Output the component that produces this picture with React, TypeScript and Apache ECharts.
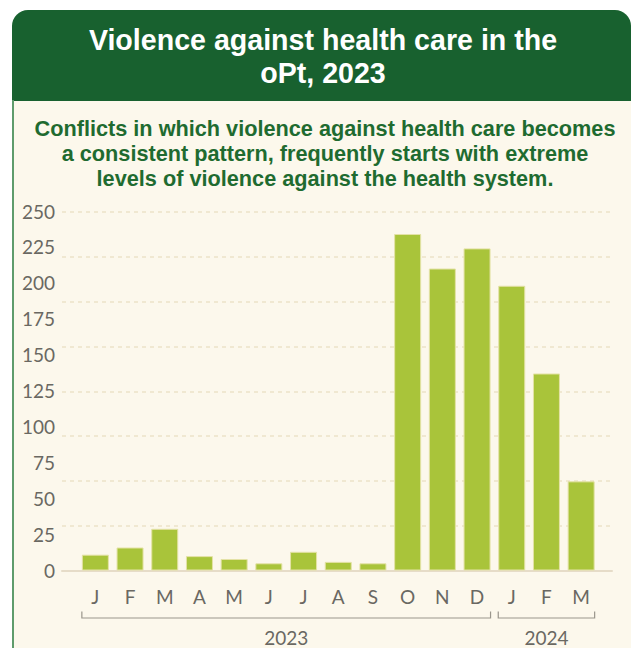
import React, { useEffect, useRef } from "react";
import * as echarts from "echarts";

const months = ["J", "F", "M", "A", "M", "J", "J", "A", "S", "O", "N", "D", "J", "F", "M"];
const incidents = [11, 16, 29, 10, 8, 5, 13, 6, 5, 234, 210, 224, 198, 137, 62];
const yearGroups = [
  { label: "2023", from: 0, to: 11 },
  { label: "2024", from: 12, to: 14 },
];
const titleLines = ["Violence against health care in the", "oPt, 2023"];
const subtitleLines = [
  "Conflicts in which violence against health care becomes",
  "a consistent pattern, frequently starts with extreme",
  "levels of violence against the health system.",
];

const FONT = "Lato";
const TITLE_FONT = "Liberation Sans";
const GRAY = "#6a6862";
const DARK_GREEN = "#18612f";
const TEXT_GREEN = "#1f6b30";
const CREAM = "#fcf8ec";
const BAR = "#a9c43a";
const BAR_W = 27;

export default function App() {
  const ref = useRef<HTMLDivElement>(null);
  useEffect(() => {
    if (!ref.current) return;
    const chart = echarts.init(ref.current, null, { renderer: "svg" });
    const option: any = {
      animation: false,
      backgroundColor: "#ffffff",
      grid: [
        { left: 78, width: 520.5, top: 211, bottom: 648 - 570.5, containLabel: false },
        { left: 62, right: 19, top: 212, bottom: 648 - 570.5, containLabel: false },
      ],
      xAxis: [
        {
          type: "category",
          gridIndex: 0,
          data: months,
          axisLine: { show: false },
          axisTick: { show: false },
          axisLabel: { color: GRAY, fontFamily: FONT, fontSize: 19, margin: 16 },
        },
        {
          type: "value",
          gridIndex: 1,
          min: 0,
          max: 1,
          axisLine: { show: true, lineStyle: { color: "#e6dcc8", width: 2 } },
          axisTick: { show: false },
          axisLabel: { show: false },
          splitLine: { show: false },
        },
      ],
      yAxis: [
        {
          type: "value",
          gridIndex: 0,
          min: 0,
          max: 250,
          interval: 25,
          axisLine: { show: false },
          axisTick: { show: false },
          splitLine: { show: false },
          axisLabel: { color: GRAY, fontFamily: FONT, fontSize: 19, margin: 23 },
        },
        {
          type: "value",
          gridIndex: 1,
          min: 0,
          max: 250,
          interval: 31.25,
          axisLine: { show: false },
          axisTick: { show: false },
          axisLabel: { show: false },
          splitLine: { show: true, lineStyle: { color: "#ece2c8", type: [4, 4], width: 1.5 } },
        },
      ],
      series: [
        {
          type: "bar",
          xAxisIndex: 0,
          yAxisIndex: 0,
          data: incidents,
          barWidth: BAR_W,
          itemStyle: { color: BAR, borderColor: "#e4e2a6", borderWidth: 1 },
          z: 5,
        },
      ],
      graphic: [],
    };
    chart.setOption(option);

    const graphics: any[] = [
      {
        type: "rect",
        z: -10,
        shape: { x: 12, y: 100, width: 640, height: 560 },
        style: { fill: CREAM },
      },
      {
        type: "rect",
        z: -9,
        shape: { x: 12, y: 10, width: 619, height: 91, r: [16, 16, 0, 0] },
        style: { fill: DARK_GREEN },
      },
      {
        type: "line",
        z: -8,
        shape: { x1: 13, y1: 100, x2: 13, y2: 660 },
        style: { stroke: "#5f9c6c", lineWidth: 2 },
      },
    ];
    const titleY = [40, 73];
    titleLines.forEach((t, i) => {
      graphics.push({
        type: "text",
        z: 10,
        x: 323,
        y: titleY[i],
        style: {
          text: t,
          fill: "#ffffff",
          font: `bold 28.6px "${TITLE_FONT}"`,
          textAlign: "center",
          textVerticalAlign: "middle",
        },
      });
    });
    const subY = [128, 153, 178];
    subtitleLines.forEach((t, i) => {
      graphics.push({
        type: "text",
        z: 10,
        x: 325,
        y: subY[i],
        style: {
          text: t,
          fill: TEXT_GREEN,
          font: `bold 21.7px "${TITLE_FONT}"`,
          textAlign: "center",
          textVerticalAlign: "middle",
        },
      });
    });
    const yLine = 618;
    const yTop = 611.5;
    yearGroups.forEach((g) => {
      const a = chart.convertToPixel({ xAxisIndex: 0 }, g.from) as number;
      const b = chart.convertToPixel({ xAxisIndex: 0 }, g.to) as number;
      const x1 = a - BAR_W / 2;
      const x2 = b + BAR_W / 2;
      graphics.push({
        type: "polyline",
        shape: { points: [[x1, yTop], [x1, yLine], [x2, yLine], [x2, yTop]] },
        style: { stroke: "#9a968c", lineWidth: 1.2, fill: null },
      });
      graphics.push({
        type: "text",
        x: (x1 + x2) / 2,
        y: 637,
        style: {
          text: g.label,
          fill: GRAY,
          font: `19px ${FONT}`,
          textAlign: "center",
          textVerticalAlign: "middle",
        },
      });
    });
    chart.setOption({ graphic: graphics });
    return () => chart.dispose();
  }, []);
  return (
    <div
      ref={ref}
      style={{ position: "fixed", left: 0, top: 0, width: 631, height: 648 }}
    />
  );
}
